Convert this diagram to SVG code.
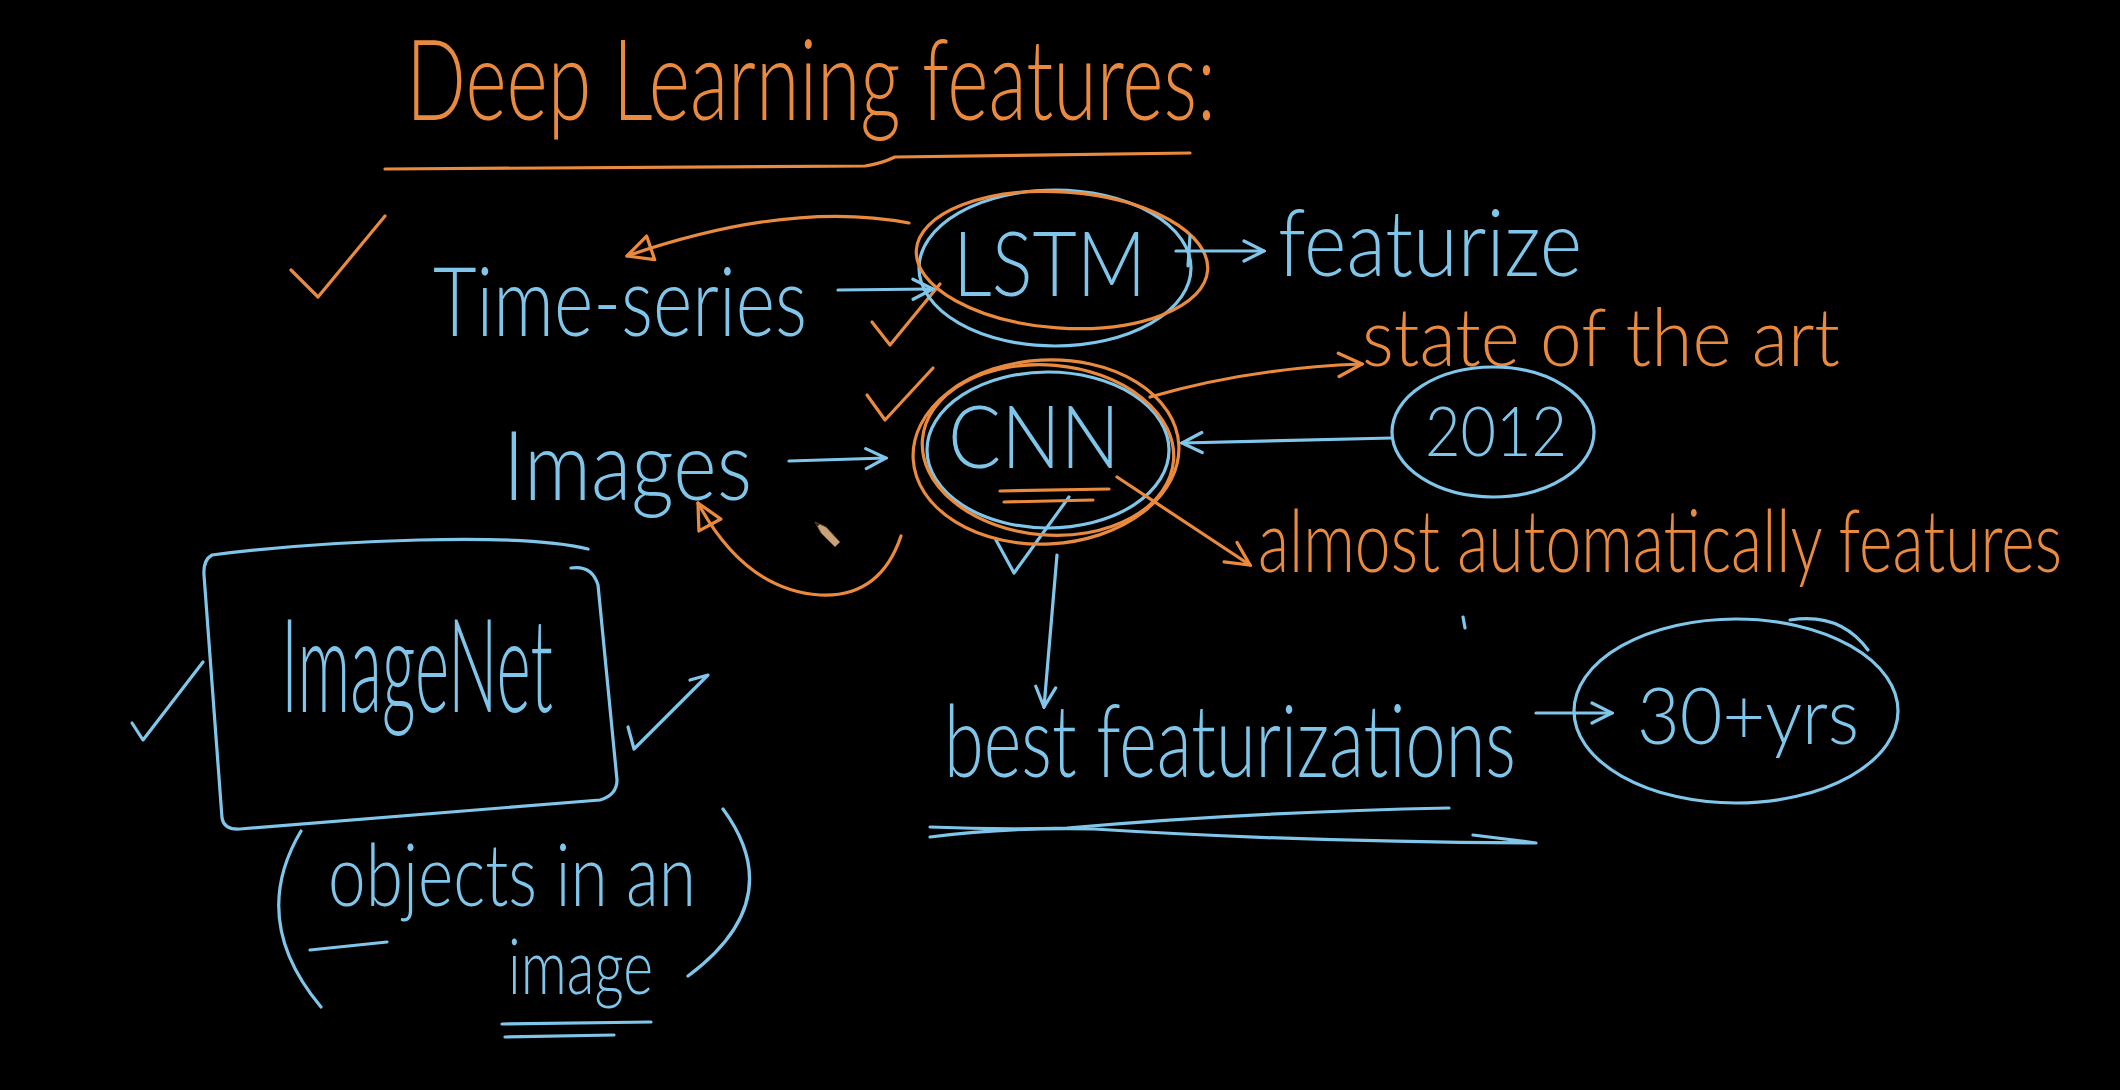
<svg xmlns="http://www.w3.org/2000/svg" width="2120" height="1090" viewBox="0 0 2120 1090">
<style>
.b{stroke:#7fc6ea;fill:none;stroke-width:3.2;stroke-linecap:round;stroke-linejoin:round}
.o{stroke:#e98a3e;fill:none;stroke-width:3.2;stroke-linecap:round;stroke-linejoin:round}
.tb{fill:#7fc6ea;font-family:Lato,"Open Sans","Liberation Sans",sans-serif;font-weight:300}
.to{fill:#e98a3e;font-family:Lato,"Open Sans","Liberation Sans",sans-serif;font-weight:300}
</style>
<defs>
<marker id="cb" viewBox="0 0 12 12" refX="11" refY="6" markerWidth="24" markerHeight="24" markerUnits="userSpaceOnUse" orient="auto">
<path d="M1,1 L11,6 L1,11" fill="none" stroke="#7fc6ea" stroke-width="1.6" stroke-linecap="round"/>
</marker>
<marker id="co" viewBox="0 0 12 12" refX="11" refY="6" markerWidth="28" markerHeight="28" markerUnits="userSpaceOnUse" orient="auto">
<path d="M1,1 L11,6 L1,11" fill="none" stroke="#e98a3e" stroke-width="1.4" stroke-linecap="round"/>
</marker>
<marker id="to" viewBox="0 0 12 12" refX="11" refY="6" markerWidth="30" markerHeight="30" markerUnits="userSpaceOnUse" orient="auto">
<path d="M1,1 L11,6 L1,11 Z" fill="none" stroke="#e98a3e" stroke-width="1.3" stroke-linejoin="round"/>
</marker>
</defs>
<rect width="2120" height="1090" fill="#000"/>

<g id="title">
<text class="to" x="406" y="120" font-size="112" textLength="810" lengthAdjust="spacingAndGlyphs">Deep Learning features:</text>
<path class="o" d="M385,169 L865,166 Q880,164 895,157 L1190,153"/>
</g>

<g id="checks">
<path class="o" d="M291,270 L318,297 L385,216"/>
<path class="o" d="M872,322 L890,345 L940,284"/>
<path class="o" d="M867,395 L885,420 L933,368"/>
<path class="b" d="M996,540 L1014,573 L1069,497"/>
<path class="b" d="M132,723 L143,740 L203,662"/>
<path class="b" d="M628,727 L634,749 L708,675 L690,680"/>
</g>

<g id="timeseries">
<text class="tb" x="433" y="336" font-size="96" textLength="374" lengthAdjust="spacingAndGlyphs">Time-series</text>
</g>

<g id="lstm">
<ellipse class="b" cx="1055" cy="268" rx="136" ry="78"/>
<ellipse class="o" cx="1062" cy="260" rx="146" ry="68" transform="rotate(4 1062 260)"/>
<text class="tb" x="953" y="296" font-size="90" textLength="193" lengthAdjust="spacingAndGlyphs">LSTM</text>
</g>

<g id="featurize">
<text class="tb" x="1278" y="276" font-size="92" textLength="304" lengthAdjust="spacingAndGlyphs">featurize</text>
</g>

<g id="stateart">
<text class="to" x="1362" y="366" font-size="80" textLength="478" lengthAdjust="spacingAndGlyphs">state of the art</text>
</g>

<g id="cnn">
<ellipse class="b" cx="1048" cy="450" rx="121" ry="78"/>
<ellipse class="o" cx="1046" cy="452" rx="133" ry="92" transform="rotate(-3 1046 452)"/>
<ellipse class="o" cx="1048" cy="450" rx="126" ry="85" transform="rotate(5 1048 450)"/>
<text class="tb" x="948" y="468" font-size="86" textLength="172" lengthAdjust="spacingAndGlyphs">CNN</text>
<path class="o" d="M1000,491 L1109,489 M1004,502 L1093,500"/>
</g>

<g id="images">
<text class="tb" x="503" y="500" font-size="96" textLength="249" lengthAdjust="spacingAndGlyphs">Images</text>
</g>

<g id="n2012">
<ellipse class="b" cx="1493" cy="432" rx="101" ry="65"/>
<text class="tb" x="1425" y="456" font-size="68" textLength="142" lengthAdjust="spacingAndGlyphs">2012</text>
</g>

<g id="almost">
<text class="to" x="1258" y="572" font-size="86" textLength="804" lengthAdjust="spacingAndGlyphs">almost automatically features</text>
</g>

<g id="best">
<text class="tb" x="944" y="777" font-size="100" textLength="572" lengthAdjust="spacingAndGlyphs">best featurizations</text>
<path class="b" d="M1463,617 L1465,628"/>
<path class="b" d="M930,827 Q1000,830 1067,828 Q1250,812 1449,808"/>
<path class="b" d="M930,837 Q1010,827 1094,829 Q1300,842 1536,843 L1473,835"/>
</g>

<g id="yrs30">
<ellipse class="b" cx="1736" cy="711" rx="162" ry="92"/>
<path class="b" d="M1790,620 Q1840,612 1868,650"/>
<text class="tb" x="1637" y="744" font-size="78" textLength="222" lengthAdjust="spacingAndGlyphs">30+yrs</text>
</g>

<g id="imagenet">
<path class="b" d="M588,549 C520,532 330,540 212,555 Q203,560 204,575 L222,818 Q224,830 240,829 L600,800 Q617,795 617,780 L598,585 Q592,565 571,568"/>
<text class="tb" x="281" y="712" font-size="130" textLength="272" lengthAdjust="spacingAndGlyphs">ImageNet</text>
</g>

<g id="objects">
<path class="b" d="M301,831 Q248,920 321,1007"/>
<path class="b" d="M723,809 Q790,900 688,976"/>
<text class="tb" x="328" y="906" font-size="86" textLength="368" lengthAdjust="spacingAndGlyphs">objects in an</text>
<text class="tb" x="508" y="994" font-size="76" textLength="145" lengthAdjust="spacingAndGlyphs">image</text>
<path class="b" d="M310,950 L387,942" stroke-width="4.5"/>
<path class="b" d="M502,1024 L651,1022 M505,1037 L614,1035"/>
</g>

<g id="cursor">
<path d="M815,522 L826,527 L840,542 L835,547 L821,533 Z" fill="#c9a27a" stroke="#6b5030" stroke-width="1"/>
<path d="M815,522 L820,524 L817,527 Z" fill="#3a2a1a"/>
</g>

<g id="connectors">
<path class="b" d="M838,290 L933,289" marker-end="url(#cb)"/>
<path class="o" d="M909,223 Q790,200 627,256" marker-end="url(#to)"/>
<path class="b" d="M1176,251 L1264,251" marker-end="url(#cb)"/>
<path class="b" d="M1190,236 L1188,266"/>
<path class="o" d="M1150,397 Q1250,368 1362,364" marker-end="url(#co)"/>
<path class="b" d="M789,461 L886,458" marker-end="url(#cb)"/>
<path class="o" d="M901,536 Q880,598 820,595 Q745,590 698,503" marker-end="url(#to)"/>
<path class="b" d="M1392,438 L1182,443" marker-end="url(#cb)"/>
<path class="o" d="M1117,477 L1250,565" marker-end="url(#co)"/>
<path class="b" d="M1057,555 L1044,707" marker-end="url(#cb)"/>
<path class="b" d="M1536,713 L1612,713" marker-end="url(#cb)"/>
</g>
</svg>
